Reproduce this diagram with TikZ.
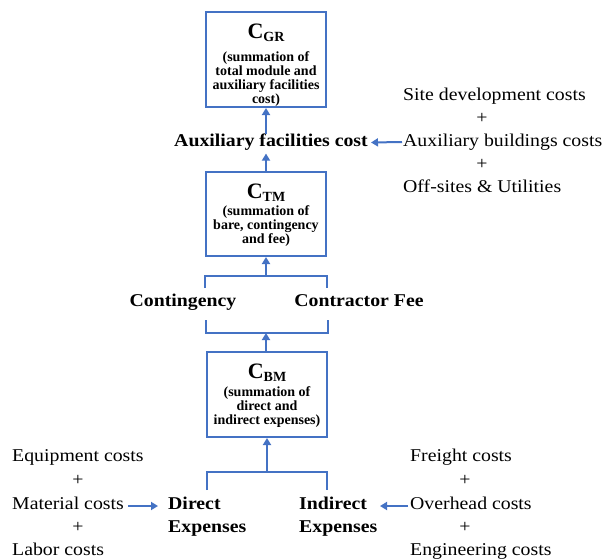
\documentclass[tikz,border=0pt]{standalone}
\usepackage{fontspec}
\setmainfont[FakeStretch=1.1]{Liberation Serif}
\newfontfamily\boxfont{Liberation Serif}
\usetikzlibrary{arrows.meta,calc}
\definecolor{lineblue}{HTML}{4472C4}
\newcommand\boxtext[5]{\parbox[c][#1][t]{120pt}{\boxfont\bfseries\centering\vspace*{#2}%
{\fontsize{22}{22}\selectfont C}\raisebox{-3pt}{\fontsize{14}{14}\selectfont #3}\par
\vspace{#4}\fontsize{14}{14}\selectfont #5\par}}
\tikzset{
  box/.style={draw=lineblue, line width=2pt, inner sep=0pt},
  txt/.style={inner sep=0pt, anchor=base west, font=\fontsize{18}{23}\selectfont},
  ptxt/.style={inner sep=0pt, anchor=base, font=\fontsize{18}{23}\selectfont},
  btxt/.style={inner sep=0pt, anchor=base, font=\bfseries\fontsize{18}{23}\selectfont},
  b2txt/.style={inner sep=0pt, anchor=base west, align=left, font=\bfseries\fontsize{18}{23}\selectfont},
  ln/.style={draw=lineblue, line width=2pt},
  arr/.style={draw=lineblue, line width=2pt, -{Triangle[width=8pt,length=7pt]}}
}
\begin{document}
\begin{tikzpicture}[x=1pt,y=-1pt]
\useasboundingbox (0,0) rectangle (603,560);
% boxes
\node[box] (cgr) at (266,59.5) {\boxtext{95pt}{11.5pt}{GR}{9.5pt}{(summation of\\total module and\\auxiliary facilities\\cost)}};
\node[box] (ctm) at (266,214) {\boxtext{84pt}{11.5pt}{TM}{3pt}{(summation of\\bare, contingency\\and fee)}};
\node[box] (cbm) at (267,394.5) {\boxtext{85pt}{11.5pt}{BM}{4pt}{(summation of\\direct and\\indirect expenses)}};
% auxiliary
\node[btxt] (aux) at (271,146.5) {Auxiliary facilities cost};
\node[txt] (site) at (403,100) {Site development costs};
\node[ptxt] (pa1) at (482,123) {+};
\node[txt] (auxb) at (403,146) {Auxiliary buildings costs};
\node[ptxt] (pa2) at (482,169) {+};
\node[txt] (offs) at (403,192) {Off-sites \& Utilities};
\draw[arr] ([xshift=-1pt,yshift=4pt]auxb.base west) -- ([xshift=3pt,yshift=4pt]aux.base east);
\draw[arr] (aux.north -| cgr.south) -- (cgr.south);
\draw[arr] (ctm.north) -- ([yshift=-3pt]ctm.north |- aux.south);
% contingency / fee
\node[btxt] (cont) at (183,306.5) {Contingency};
\node[btxt] (fee) at (359,306.5) {Contractor Fee};
\coordinate (tb) at (266,275.5);
\coordinate (bb) at (266,333);
\draw[ln] (205,288) |- (tb) -| (327,288);
\draw[ln] (206,320) |- (bb) -| (328,320);
\draw[arr] (tb) -- (ctm.south);
\draw[arr] (cbm.north -| bb) -- (bb);
% direct / indirect
\coordinate (db) at (267,472);
\draw[ln] (207,490) |- (db) -| (327,490);
\draw[arr] (db) -- (cbm.south);
\node[b2txt] (dir) at (168,532) {Direct\\Expenses};
\node[b2txt] (ind) at (299,532) {Indirect\\Expenses};
\node[txt] (eq) at (12,461.5) {Equipment costs};
\node[ptxt] (pl1) at (78,485) {+};
\node[txt] (mat) at (12,509) {Material costs};
\node[ptxt] (pl2) at (78,532) {+};
\node[txt] (lab) at (12,555) {Labor costs};
\node[txt] (fr) at (410,461.5) {Freight costs};
\node[ptxt] (pr1) at (465,485) {+};
\node[txt] (ov) at (410,509) {Overhead costs};
\node[ptxt] (pr2) at (465,532) {+};
\node[txt] (eng) at (410,555) {Engineering costs};
\draw[arr] ([xshift=4pt,yshift=3pt]mat.base east) -- (158,506);
\draw[arr] ([xshift=-2pt,yshift=3pt]ov.base west) -- (380,506);
\end{tikzpicture}
\end{document}
